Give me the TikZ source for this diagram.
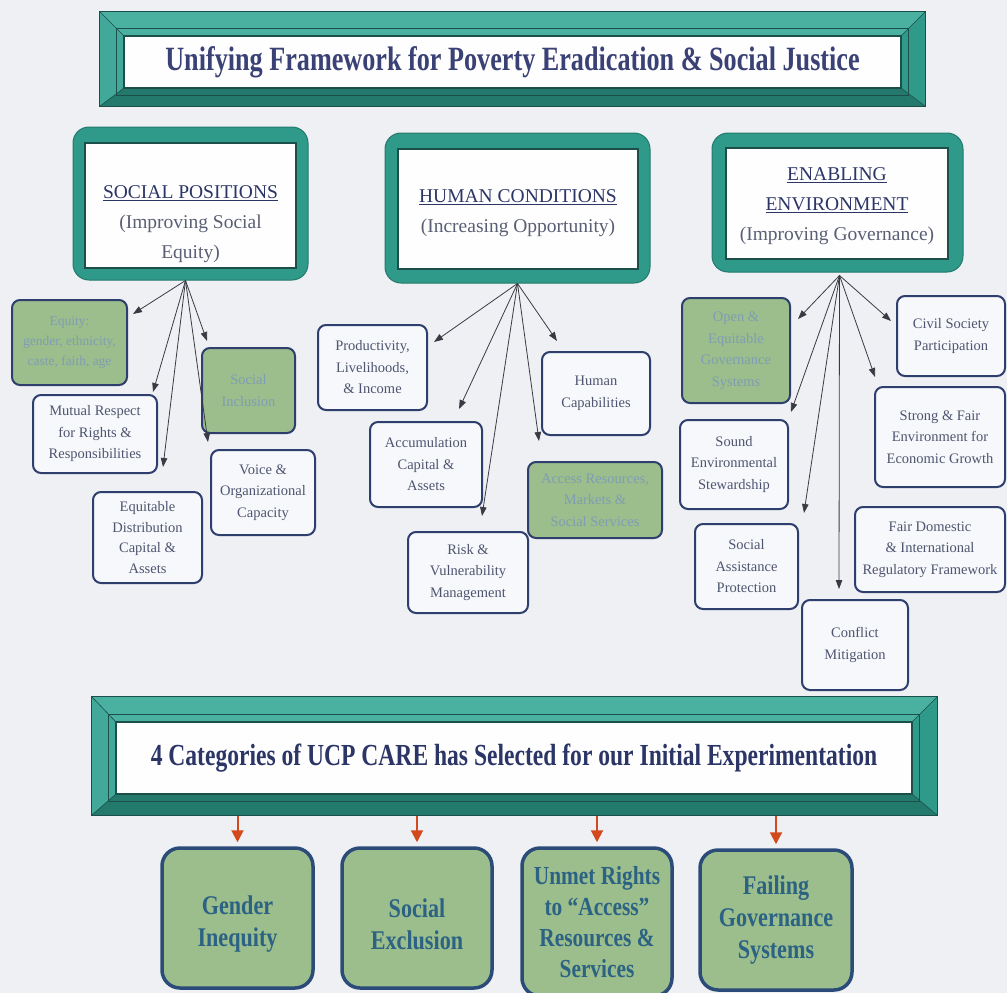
\documentclass[tikz,border=0pt]{standalone}
\usepackage{fontspec}
\setmainfont{Liberation Serif}
\newfontfamily\narrowserif[FakeStretch=0.77]{Liberation Serif}
\newfontfamily\catserif[FakeStretch=0.82]{Liberation Serif}
\usetikzlibrary{arrows.meta,calc}

\definecolor{bgc}{HTML}{EEF0F3}
\definecolor{frameteal}{HTML}{2F998A}
\definecolor{framelight}{HTML}{4AB0A0}
\definecolor{framedark}{HTML}{23796C}
\definecolor{edgedark}{HTML}{1D4F4A}
\definecolor{titlenavy}{HTML}{3A4175}
\definecolor{hdrnavy}{HTML}{2B3566}
\definecolor{hdrgray}{HTML}{5A5F74}
\definecolor{boxline}{HTML}{2E3F6E}
\definecolor{boxfill}{HTML}{F6F8FB}
\definecolor{sage}{HTML}{9BBE8C}
\definecolor{sagetext}{HTML}{7F9DB4}
\definecolor{leaftext}{HTML}{4F556F}
\definecolor{cattext}{HTML}{2C6283}
\definecolor{catline}{HTML}{2B4C78}
\definecolor{arrowred}{HTML}{D2491D}
\definecolor{linkgray}{HTML}{3A3A45}

\begin{document}
\begin{tikzpicture}[x=1pt,y=-1pt,
  wh/.style 2 args={minimum width=#1pt,minimum height=#2pt},
  bannerframe/.style={fill=frameteal, draw=edgedark, line width=1pt, inner sep=0pt},
  bannerpanel/.style={fill=white!96!bgc, inner sep=0pt, align=center, text=titlenavy},
  hdrframe/.style={fill=frameteal, draw=framedark, line width=1pt, rounded corners=16pt, inner sep=0pt},
  hdrpanel/.style={fill=white!96!bgc, draw=edgedark, line width=1.2pt, inner sep=0pt},
  hdrtext/.style={align=center, text=hdrgray, font=\fontsize{19.5}{30}\selectfont, inner sep=0pt},
  leaf/.style={draw=boxline, line width=2pt, rounded corners=8pt, fill=boxfill, align=center,
    text=leaftext, font=\fontsize{14.5}{21.5}\selectfont, inner sep=2pt},
  greenleaf/.style={leaf, fill=sage, text=sagetext},
  link/.style={draw=linkgray, line width=0.8pt, -{Triangle[length=9pt,width=6.5pt]}},
  category/.style={draw=catline, line width=3.5pt, rounded corners=18pt, fill=sage, align=center,
    text=cattext, font=\catserif\bfseries\fontsize{27}{32}\selectfont, inner sep=0pt},
  redlink/.style={draw=arrowred, line width=2pt, -{Triangle[length=12pt,width=12pt]}},
]
\useasboundingbox (0,0) rectangle (1007,993);
\fill[bgc] (0,0) rectangle (1007,993);

% ---------- title banner ----------
\node[bannerframe, wh={825}{94}] (tb) at (512.5,59) {};
\node[bannerpanel, wh={777}{52}] (tp) at (512.5,62)
  {\narrowserif\bfseries\fontsize{34}{36}\selectfont Unifying Framework for Poverty Eradication \& Social Justice};
\fill[framelight] (tb.north west) -- (tb.north east) -- (tp.north east) -- (tp.north west) -- cycle;
\fill[framelight!70!frameteal] (tb.north west) -- (tp.north west) -- (tp.south west) -- (tb.south west) -- cycle;
\fill[framedark] (tb.south west) -- (tb.south east) -- (tp.south east) -- (tp.south west) -- cycle;
\fill[frameteal] (tb.north east) -- (tb.south east) -- (tp.south east) -- (tp.north east) -- cycle;
\draw[edgedark, line width=0.6pt] (tb.north west) -- (tp.north west) (tb.north east) -- (tp.north east)
  (tb.south west) -- (tp.south west) (tb.south east) -- (tp.south east);
\draw[edgedark, line width=1.2pt] (tb.north west) rectangle (tb.south east);
\draw[edgedark, line width=0.8pt] ($(tp.north west)+(-7,-7)$) rectangle ($(tp.south east)+(7,7)$);
\draw[edgedark, line width=1.5pt] (tp.north west) rectangle (tp.south east);

% ---------- three pillars ----------
\node[hdrframe, wh={235}{153}] (hsp) at (190.5,203.5) {};
\node[hdrpanel, wh={211}{125}] (hsppanel) at (190.5,205.5) {};
\node[hdrtext] (hsptext) at (190.5,224)
  {\textcolor{hdrnavy}{\underline{SOCIAL POSITIONS}}\\(Improving Social\\Equity)};

\node[hdrframe, wh={265}{150}] (hhc) at (517.5,208) {};
\node[hdrpanel, wh={240}{120}] (hhcpanel) at (518,209) {};
\node[hdrtext] (hhctext) at (518,213)
  {\textcolor{hdrnavy}{\underline{HUMAN CONDITIONS}}\\(Increasing Opportunity)};

\node[hdrframe, wh={251}{139}] (hee) at (837.5,202.5) {};
\node[hdrpanel, wh={222}{111}] (heepanel) at (837,203.5) {};
\node[hdrtext] (heetext) at (837,206)
  {\textcolor{hdrnavy}{\underline{ENABLING}}\\\textcolor{hdrnavy}{\underline{ENVIRONMENT}}\\(Improving Governance)};

% ---------- social positions ----------
\node[greenleaf, wh={115}{85}, font=\fontsize{13.5}{20}\selectfont] (eq) at (69.5,342.5)
  {Equity:\\gender, ethnicity,\\caste, faith, age};
\node[greenleaf, wh={93}{85}] (si) at (248.5,390.5) {Social\\Inclusion};
\node[leaf, wh={124}{78}] (mr) at (95,434) {Mutual Respect\\for Rights \&\\Responsibilities};
\node[leaf, wh={104}{85}] (vo) at (263,492.5) {Voice \&\\Organizational\\Capacity};
\node[leaf, wh={109}{91}, font=\fontsize{14.5}{20.5}\selectfont] (ed) at (147.5,537.5)
  {Equitable\\Distribution\\Capital \&\\Assets};

\draw[link] ($(hsp.south)+(-5,0)$) -- ($(eq.north east)+(5,15)$);
\draw[link] ($(hsp.south)+(-5,0)$) -- ($(mr.north east)+(-5,-2)$);
\draw[link] ($(hsp.south)+(-5,0)$) -- ($(ed.north)+(15.5,-24)$);
\draw[link] ($(hsp.south)+(-5,0)$) -- ($(si.north west)+(6,-6)$);
\draw[link] ($(hsp.south)+(-5,0)$) -- ($(vo.north west)+(-2,-7)$);

% ---------- human conditions ----------
\node[leaf, wh={109}{85}] (pl) at (372.5,367.5) {Productivity,\\Livelihoods,\\\& Income};
\node[leaf, wh={108}{83}] (hcap) at (596,393.5) {Human\\Capabilities};
\node[leaf, wh={112}{85}] (acc) at (426,464.5) {Accumulation\\Capital \&\\Assets};
\node[greenleaf, wh={134}{76}] (arm) at (595,500) {Access Resources,\\Markets \&\\Social Services};
\node[leaf, wh={120}{81}] (rv) at (468,572.5) {Risk \&\\Vulnerability\\Management};

\draw[link] (hhc.south) -- ($(pl.north east)+(6,18)$);
\draw[link] (hhc.south) -- ($(acc.north east)+(-24,-12)$);
\draw[link] (hhc.south) -- ($(rv.north)+(14,-15)$);
\draw[link] (hhc.south) -- ($(arm.north west)+(12,-20)$);
\draw[link] (hhc.south) -- ($(hcap.north west)+(16,-10)$);

% ---------- enabling environment ----------
\node[greenleaf, wh={108}{105}] (oeg) at (736,350.5) {Open \&\\Equitable\\Governance\\Systems};
\node[leaf, wh={108}{80}] (csp) at (951,336) {Civil Society\\Participation};
\node[leaf, wh={108}{89}] (ses) at (734,464.5) {Sound\\Environmental\\Stewardship};
\node[leaf, wh={130}{100}] (sfe) at (940,437) {Strong \& Fair\\Environment for\\Economic Growth};
\node[leaf, wh={103}{85}] (sap) at (746.5,566.5) {Social\\Assistance\\Protection};
\node[leaf, wh={150}{85}] (fdr) at (930,549.5) {Fair Domestic\\\& International\\Regulatory Framework};
\node[leaf, wh={106}{90}] (cmi) at (855,645) {Conflict\\Mitigation};

\draw[link] ($(hee.south)+(2,3)$) -- ($(oeg.north east)+(7,22)$);
\draw[link] ($(hee.south)+(2,3)$) -- ($(ses.north east)+(2,-7)$);
\draw[link] ($(hee.south)+(2,3)$) -- ($(sap.north east)+(5,-10)$);
\draw[link] ($(hee.south)+(2,3)$) -- ($(cmi.north)+(-16,-10)$);
\draw[link] ($(hee.south)+(2,3)$) -- ($(csp.north west)+(-5,26)$);
\draw[link] ($(hee.south)+(2,3)$) -- ($(sfe.north west)+(1,-9)$);

% ---------- selection banner ----------
\node[bannerframe, wh={845}{118}] (bb) at (514.5,756) {};
\node[bannerpanel, wh={796}{72}, text=hdrnavy] (bp) at (514,758)
  {\narrowserif\bfseries\fontsize{30.6}{34}\selectfont 4 Categories of UCP CARE has Selected for our Initial Experimentation};
\fill[framelight] (bb.north west) -- (bb.north east) -- (bp.north east) -- (bp.north west) -- cycle;
\fill[framelight!70!frameteal] (bb.north west) -- (bp.north west) -- (bp.south west) -- (bb.south west) -- cycle;
\fill[framedark] (bb.south west) -- (bb.south east) -- (bp.south east) -- (bp.south west) -- cycle;
\fill[frameteal] (bb.north east) -- (bb.south east) -- (bp.south east) -- (bp.north east) -- cycle;
\draw[edgedark, line width=0.6pt] (bb.north west) -- (bp.north west) (bb.north east) -- (bp.north east)
  (bb.south west) -- (bp.south west) (bb.south east) -- (bp.south east);
\draw[edgedark, line width=1.2pt] (bb.north west) rectangle (bb.south east);
\draw[edgedark, line width=0.8pt] ($(bp.north west)+(-7,-7)$) rectangle ($(bp.south east)+(7,7)$);
\draw[edgedark, line width=1.5pt] (bp.north west) rectangle (bp.south east);

% ---------- four categories ----------
\node[category, wh={151}{140}] (gi) at (237.5,918) {\rule{0pt}{31pt}Gender\\Inequity};
\node[category, wh={150}{140}] (sx) at (417,918) {\rule{0pt}{31pt}Social\\Exclusion};
\node[category, wh={150}{148}, font=\catserif\bfseries\fontsize{26}{31}\selectfont] (ur) at (597,922)
  {Unmet Rights\\to “Access”\\Resources \&\\Services};
\node[category, wh={152}{140}] (fg) at (776,920) {Failing\\Governance\\Systems};

\draw[redlink] (gi.north |- bb.south) -- ($(gi.north)+(0,-4)$);
\draw[redlink] (sx.north |- bb.south) -- ($(sx.north)+(0,-4)$);
\draw[redlink] (ur.north |- bb.south) -- ($(ur.north)+(0,-4)$);
\draw[redlink] (fg.north |- bb.south) -- ($(fg.north)+(0,-4)$);
\end{tikzpicture}
\end{document}
